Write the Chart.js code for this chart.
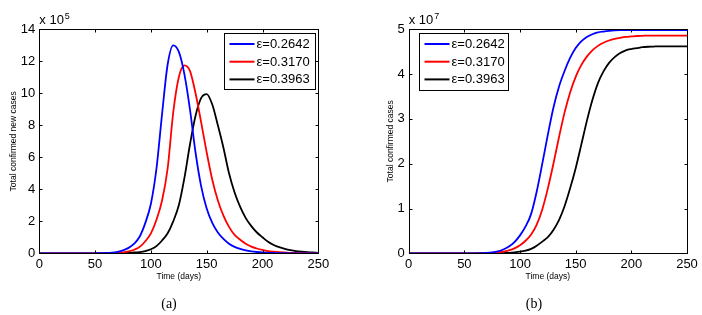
<!DOCTYPE html>
<html>
<head>
<meta charset="utf-8">
<title>Total confirmed new cases and total confirmed cases</title>
<script src="https://cdn.jsdelivr.net/npm/chart.js"></script>
<style>
  body { margin: 0; background: #fff; width: 702px; height: 315px; position: relative; overflow: hidden; }
  .panel { position: absolute; top: 0; width: 351px; height: 315px; }
  .caption { position: absolute; top: 296px; width: 40px; line-height: 16px; text-align: center;
             font-family: "Liberation Serif", "Times New Roman", serif; font-size: 14px; color: #000; }
</style>
</head>
<body>
<div class="panel" style="left:0"><canvas id="chartA" width="351" height="315"></canvas></div>
<div class="panel" style="left:351px"><canvas id="chartB" width="351" height="315"></canvas></div>
<div class="caption" style="left:149px">(a)</div>
<div class="caption" style="left:514px">(b)</div>

<script>
// time axis, one point every 5 days
const days = [0,5,10,15,20,25,30,35,40,45,50,
  55,60,65,70,75,80,85,90,95,100,
  105,110,115,120,125,130,135,140,145,150,
  155,160,165,170,175,180,185,190,195,200,
  205,210,215,220,225,230,235,240,245,250];

const seriesLabels = ['ε=0.2642', 'ε=0.3170', 'ε=0.3963'];
const seriesColors = ['#0000ff', '#ff0000', '#000000'];

// (a) total confirmed new cases, x 10^5
const newBlue = [0,0,0,0,0,0,0,0,0,0,0,
  0.01,0.02,0.04,0.09,0.18,0.34,0.6,1.05,1.9,3.1,
  5.3,8.7,11.8,13.0,12.6,11.2,9.0,6.3,4.2,2.8,
  1.9,1.3,0.9,0.6,0.4,0.27,0.18,0.12,0.08,0.05,
  0.03,0.02,0.01,0.01,0,0,0,0,0,0];
const newRed = [0,0,0,0,0,0,0,0,0,0,0,
  0,0.01,0.02,0.03,0.06,0.12,0.22,0.4,0.75,1.25,
  2.1,3.3,5.3,8.8,11.0,11.75,11.4,10.0,8.2,6.3,
  4.6,3.3,2.35,1.65,1.15,0.85,0.6,0.42,0.3,0.21,
  0.14,0.1,0.07,0.05,0.03,0.02,0.01,0.01,0,0];
const newBlack = [0,0,0,0,0,0,0,0,0,0,0,
  0,0,0,0.01,0.02,0.03,0.05,0.08,0.14,0.25,
  0.45,0.8,1.25,2.0,3.0,4.7,6.8,8.6,9.7,9.95,
  9.3,8.0,6.6,5.0,3.8,2.9,2.2,1.7,1.3,1.0,
  0.72,0.52,0.38,0.28,0.2,0.14,0.1,0.07,0.05,0.03];

// (b) total confirmed cases, x 10^7
const cumBlue = [0,0,0,0,0,0,0,0,0,0,0,
  0,0,0.004,0.01,0.022,0.045,0.085,0.15,0.25,0.4,
  0.6,0.88,1.38,2.0,2.65,3.25,3.72,4.07,4.36,4.58,
  4.73,4.83,4.89,4.93,4.95,4.965,4.975,4.98,4.98,4.98,
  4.98,4.98,4.98,4.98,4.98,4.98,4.98,4.98,4.98,4.98];
const cumRed = [0,0,0,0,0,0,0,0,0,0,0,
  0,0,0,0.005,0.01,0.02,0.035,0.065,0.11,0.18,
  0.28,0.42,0.64,0.98,1.45,2.0,2.59,3.14,3.59,3.94,
  4.2,4.39,4.53,4.63,4.7,4.75,4.785,4.81,4.83,4.84,
  4.85,4.855,4.86,4.86,4.86,4.86,4.86,4.86,4.86,4.86];
const cumBlack = [0,0,0,0,0,0,0,0,0,0,0,
  0,0,0,0,0,0,0.005,0.01,0.02,0.035,
  0.06,0.1,0.17,0.26,0.36,0.52,0.74,1.05,1.45,1.9,
  2.42,2.95,3.42,3.8,4.06,4.25,4.38,4.47,4.53,4.56,
  4.58,4.6,4.61,4.615,4.62,4.62,4.62,4.62,4.62,4.62];

const xTicks = [0, 50, 100, 150, 200, 250];
const newTicks = [0, 2, 4, 6, 8, 10, 12, 14];
const cumTicks = [0, 1, 2, 3, 4, 5];

const FONT = '"Liberation Sans", Arial, sans-serif';
Chart.defaults.font.family = FONT;
Chart.defaults.color = '#000';

// matlab style box: frame, inward ticks, exponent label, legend
const matlabBox = {
  id: 'matlabBox',
  afterDatasetsDraw(chart, args, opts) {
    const { ctx, chartArea: a, scales: { x, y } } = chart;
    const L = Math.round(a.left) + 0.5, R = Math.round(a.right) + 0.5;
    const T = Math.round(a.top) + 0.5, B = Math.round(a.bottom) + 0.5;
    ctx.save();
    ctx.strokeStyle = '#000';
    ctx.lineWidth = 1;
    ctx.strokeRect(L, T, R - L, B - T);
    ctx.beginPath();
    x.ticks.forEach(t => {
      const px = Math.round(x.getPixelForValue(t.value)) + 0.5;
      ctx.moveTo(px, B); ctx.lineTo(px, B - 3);
      ctx.moveTo(px, T); ctx.lineTo(px, T + 3);
    });
    y.ticks.forEach(t => {
      const py = Math.round(y.getPixelForValue(t.value)) + 0.5;
      ctx.moveTo(L, py); ctx.lineTo(L + 3, py);
      ctx.moveTo(R, py); ctx.lineTo(R - 3, py);
    });
    ctx.stroke();

    // x 10^n above the y axis
    ctx.fillStyle = '#000';
    ctx.textBaseline = 'alphabetic';
    ctx.textAlign = 'left';
    ctx.font = '13px ' + FONT;
    ctx.fillText('x 10', a.left, a.top - 5);
    const w = ctx.measureText('x 10').width;
    ctx.font = '9px ' + FONT;
    ctx.fillText(opts.exponent, a.left + w + 1, a.top - 10);

    // legend box
    const lg = opts.legend;
    ctx.fillStyle = '#fff';
    ctx.fillRect(lg.x, lg.y, lg.w, lg.h);
    ctx.strokeRect(lg.x + 0.5, lg.y + 0.5, lg.w, lg.h);
    ctx.font = '13px ' + FONT;
    ctx.textBaseline = 'middle';
    chart.data.datasets.forEach((ds, i) => {
      const ry = lg.y + lg.first + i * lg.step;
      ctx.strokeStyle = ds.borderColor;
      ctx.lineWidth = 2;
      ctx.beginPath();
      ctx.moveTo(lg.x + 5.5, ry); ctx.lineTo(lg.x + 30.5, ry);
      ctx.stroke();
      ctx.fillStyle = '#000';
      ctx.fillText(ds.label, lg.x + 32.5, ry + 0.5);
    });
    ctx.restore();
  }
};

function makeChart(id, values, yMax, yTicks, yTitle, opts) {
  return new Chart(document.getElementById(id), {
    type: 'line',
    data: {
      datasets: values.map((vals, i) => ({
        label: seriesLabels[i],
        data: days.map((d, k) => ({ x: d, y: vals[k] })),
        borderColor: seriesColors[i],
        borderWidth: 1.8,
        pointRadius: 0,
        cubicInterpolationMode: 'monotone',
        fill: false
      }))
    },
    options: {
      responsive: false,
      animation: false,
      events: [],
      layout: { padding: { left: 0, top: 29.3, right: opts.padRight, bottom: 31.7 } },
      plugins: {
        legend: { display: false },
        tooltip: { enabled: false },
        matlabBox: { exponent: opts.exponent, legend: opts.legend }
      },
      scales: {
        x: {
          type: 'linear', min: 0, max: 250,
          afterBuildTicks: s => { s.ticks = xTicks.map(v => ({ value: v })); },
          afterFit: s => { s.height = 30; },
          grid: { display: false, drawTicks: false },
          border: { display: false },
          ticks: { font: { size: 13 }, padding: 3, maxRotation: 0 },
          title: { display: true, text: 'Time (days)', font: { size: 8.5 }, padding: { top: 0, bottom: 1.5 } }
        },
        y: {
          type: 'linear', min: 0, max: yMax,
          afterBuildTicks: s => { s.ticks = yTicks.map(v => ({ value: v })); },
          afterFit: s => { s.width = opts.axisWidth; },
          grid: { display: false, drawTicks: false },
          border: { display: false },
          ticks: { font: { size: 13 }, padding: 4 },
          title: { display: true, text: yTitle, font: { size: 8.5 }, padding: { top: opts.titlePad, bottom: 0 } }
        }
      }
    },
    plugins: [matlabBox]
  });
}

makeChart('chartA', [newBlue, newRed, newBlack], 14, newTicks, 'Total confirmed new cases', {
  padRight: 32.7, axisWidth: 39.3, titlePad: 8.9, exponent: '5',
  legend: { x: 224, y: 33, w: 91, h: 56, first: 11, step: 17.7 }
});
makeChart('chartB', [cumBlue, cumRed, cumBlack], 5, cumTicks, 'Total confirmed cases', {
  padRight: 15, axisWidth: 57.7, titlePad: 34.2, exponent: '7',
  legend: { x: 68, y: 33, w: 89, h: 57, first: 11, step: 17.7 }
});
</script>
</body>
</html>
